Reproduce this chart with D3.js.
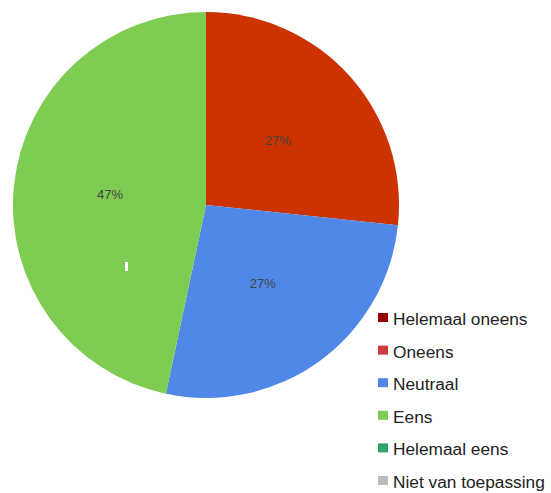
<!DOCTYPE html>
<html>
<head>
<meta charset="utf-8">
<script src="https://cdn.jsdelivr.net/npm/d3@7.9.0/dist/d3.min.js"></script>
<style>
  body { margin: 0; background: #fff; }
  svg { display: block; font-family: "Liberation Sans", Arial, sans-serif; }
</style>
</head>
<body>
<svg id="chart" width="551" height="493"></svg>
<script>
// Data
const categories = ['Helemaal oneens', 'Oneens', 'Neutraal', 'Eens', 'Helemaal eens', 'Niet van toepassing'];
const counts = [0, 4, 4, 7, 0, 0];
const sliceColors = ['#990000', '#cc3300', '#4f88e6', '#7fcc52', '#2ea36b', '#bbbbbb'];
const legendColors = ['#990000', '#d03a3a', '#4f88e6', '#7fcc52', '#2ea36b', '#bbbbbb'];

const svg = d3.select('#chart');
const cx = 206, cy = 205, radius = 193;

const pie = d3.pie().sort(null).value(d => d.count);
const arc = d3.arc().innerRadius(0).outerRadius(radius);
const labelArc = d3.arc().innerRadius(radius / 2).outerRadius(radius / 2);

const rows = categories.map((c, i) => ({ name: c, count: counts[i], color: sliceColors[i] }));
const total = d3.sum(counts);
const arcs = pie(rows).filter(d => d.data.count > 0);

const g = svg.append('g').attr('transform', `translate(${cx},${cy})`);

g.selectAll('path')
  .data(arcs)
  .join('path')
  .attr('d', arc)
  .attr('fill', d => d.data.color);

g.selectAll('text')
  .data(arcs)
  .join('text')
  .attr('transform', d => `translate(${labelArc.centroid(d)})`)
  .attr('text-anchor', 'middle')
  .attr('dy', '0.35em')
  .attr('font-size', 13)
  .attr('fill', '#444')
  .text(d => d3.format('.0%')(d.data.count / total));

// small white mark in the green slice
svg.append('rect')
  .attr('x', 125).attr('y', 262).attr('width', 3).attr('height', 9)
  .attr('fill', '#fff');

// Legend
const legend = svg.append('g').attr('transform', 'translate(378,313)');
const item = legend.selectAll('g')
  .data(categories)
  .join('g')
  .attr('transform', (d, i) => `translate(0,${i * 32.6})`);

item.append('rect')
  .attr('width', 10).attr('height', 9)
  .attr('fill', (d, i) => legendColors[i]);

item.append('text')
  .attr('x', 15)
  .attr('y', 12)
  .attr('font-size', 17.3)
  .attr('fill', '#222')
  .text(d => d);
</script>
</body>
</html>
